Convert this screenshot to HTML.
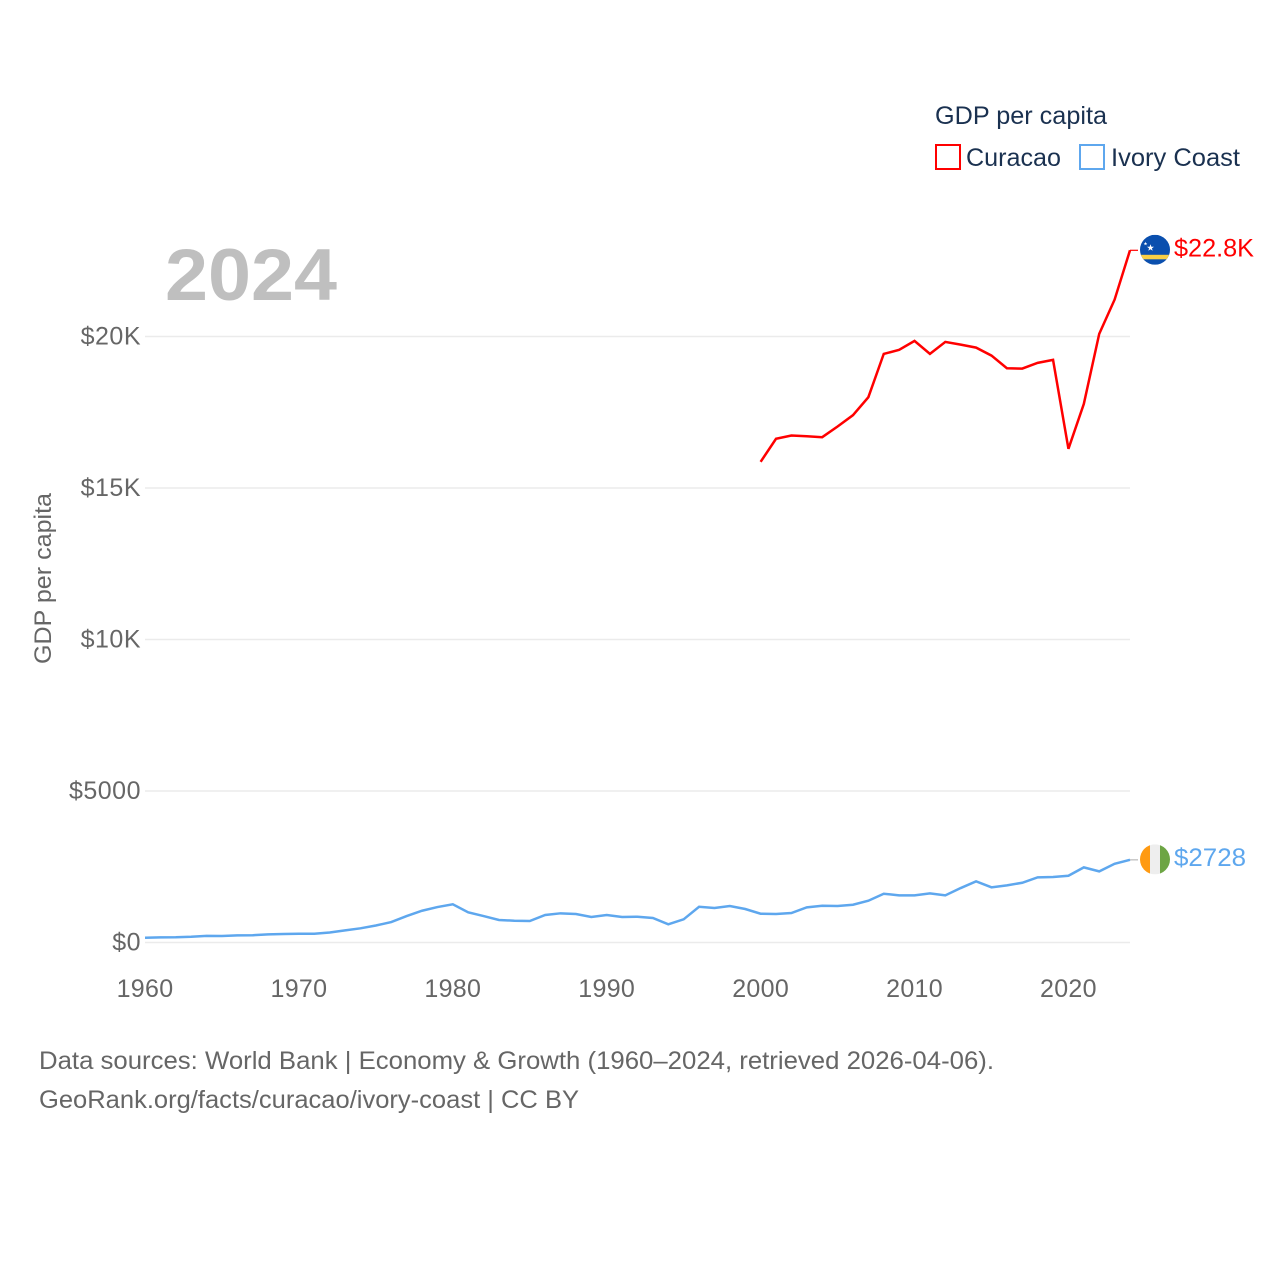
<!DOCTYPE html>
<html lang="en">
<head>
<meta charset="utf-8">
<title>GDP per capita: Curacao and Ivory Coast</title>
<style>
html,body{margin:0;padding:0;background:#fff;}
svg{display:block;font-family:"Liberation Sans",sans-serif;}
</style>
</head>
<body>
<svg id="chart" width="1280" height="1280" viewBox="0 0 1280 1280" xmlns="http://www.w3.org/2000/svg">
  <defs>
    <clipPath id="flag-clip"><circle cx="0" cy="0" r="15"/></clipPath>
  </defs>
  <rect width="1280" height="1280" fill="#ffffff"/>
  <g id="grid"></g>
  <g id="yticks"></g>
  <g id="xticks"></g>
  <text x="165" y="300" font-size="73" font-weight="700" fill="#bfbfbf" textLength="172" lengthAdjust="spacingAndGlyphs">2024</text>
  <text transform="translate(51,664) rotate(-90)" font-size="24" fill="#666666" textLength="171" lengthAdjust="spacingAndGlyphs">GDP per capita</text>
  <g id="series"></g>
  <g id="flag-curacao">
    <g clip-path="url(#flag-clip)">
      <rect x="-15" y="-15" width="30" height="30" fill="#0a4fae"/>
      <rect x="-15" y="5" width="30" height="4.5" fill="#f8cf45"/>
      <polygon fill="#ffffff" points="-4.5,-5.5 -3.6,-3 -1,-3 -3.1,-1.4 -2.3,1 -4.5,-0.5 -6.7,1 -5.9,-1.4 -8,-3 -5.4,-3"/>
      <polygon fill="#ffffff" points="-9.5,-8 -9,-6.7 -7.7,-6.7 -8.7,-5.9 -8.4,-4.6 -9.5,-5.3 -10.6,-4.6 -10.3,-5.9 -11.3,-6.7 -10,-6.7"/>
    </g>
  </g>
  <g id="flag-ivory">
    <g clip-path="url(#flag-clip)">
      <rect x="-15" y="-15" width="10" height="30" fill="#ff9a12"/>
      <rect x="-5" y="-15" width="10" height="30" fill="#eeeeee"/>
      <rect x="5" y="-15" width="10" height="30" fill="#6da544"/>
    </g>
  </g>
  <text id="label-curacao" x="1174" font-size="25" fill="#ff0000" textLength="80" lengthAdjust="spacingAndGlyphs"></text>
  <text id="label-ivory" x="1174" font-size="25" fill="#5ea7ee" textLength="72" lengthAdjust="spacingAndGlyphs"></text>

  <g>
    <text x="935" y="124" font-size="25" fill="#1a3150" textLength="172" lengthAdjust="spacingAndGlyphs">GDP per capita</text>
    <g>
      <rect x="936" y="145" width="24" height="24" fill="#ffffff" stroke="#ff0000" stroke-width="2"/>
      <text x="966" y="166" font-size="25" fill="#1a3150" textLength="95" lengthAdjust="spacingAndGlyphs">Curacao</text>
    </g>
    <g>
      <rect x="1080" y="145" width="24" height="24" fill="#ffffff" stroke="#5ea7ee" stroke-width="2"/>
      <text x="1111" y="166" font-size="25" fill="#1a3150" textLength="129" lengthAdjust="spacingAndGlyphs">Ivory Coast</text>
    </g>
  </g>

  <text x="39" y="1069" font-size="25" fill="#666666" textLength="955" lengthAdjust="spacingAndGlyphs">Data sources: World Bank | Economy &amp; Growth (1960–2024, retrieved 2026-04-06).</text>
  <text x="39" y="1108" font-size="25" fill="#666666" textLength="540" lengthAdjust="spacingAndGlyphs">GeoRank.org/facts/curacao/ivory-coast | CC BY</text>
</svg>
<script>
const yTickValues = [0, 5000, 10000, 15000, 20000];
const yTickLabels = ["$0", "$5000", "$10K", "$15K", "$20K"];
const xTickValues = [1960, 1970, 1980, 1990, 2000, 2010, 2020];
const xTickLabels = ["1960", "1970", "1980", "1990", "2000", "2010", "2020"];
const curacaoYears = [2000,2001,2002,2003,2004,2005,2006,2007,2008,2009,2010,2011,2012,2013,2014,2015,2016,2017,2018,2019,2020,2021,2022,2023,2024];
const curacaoValues = [15865,16625,16733,16710,16677,17030,17403,17996,19426,19558,19855,19426,19822,19733,19634,19370,18952,18941,19129,19228,16294,17777,20086,21218,22845];
const ivoryYears = [1960,1961,1962,1963,1964,1965,1966,1967,1968,1969,1970,1971,1972,1973,1974,1975,1976,1977,1978,1979,1980,1981,1982,1983,1984,1985,1986,1987,1988,1989,1990,1991,1992,1993,1994,1995,1996,1997,1998,1999,2000,2001,2002,2003,2004,2005,2006,2007,2008,2009,2010,2011,2012,2013,2014,2015,2016,2017,2018,2019,2020,2021,2022,2023,2024];
const ivoryValues = [158,170,172,188,220,215,237,240,270,280,287,290,330,400,468,560,675,873,1048,1170,1260,995,873,742,719,709,907,963,940,841,907,841,851,808,600,765,1180,1137,1203,1105,950,940,973,1160,1213,1203,1246,1378,1609,1556,1556,1622,1556,1797,2018,1820,1886,1972,2150,2160,2203,2479,2347,2598,2728];
const curacaoEndLabel = "$22.8K";
const ivoryEndLabel = "$2728";

const SVG_NS = "http://www.w3.org/2000/svg";
const X_LEFT = 145, X_RIGHT = 1130, YEAR_MIN = 1960, YEAR_MAX = 2024;
const Y_ZERO = 942.5, Y_TOP = 336.5, VALUE_TOP = 20000;

function xScale(year) {
  return X_LEFT + (year - YEAR_MIN) * (X_RIGHT - X_LEFT) / (YEAR_MAX - YEAR_MIN);
}
function yScale(value) {
  return Y_ZERO - value * (Y_ZERO - Y_TOP) / VALUE_TOP;
}
function make(tag, attrs, parent, text) {
  const el = document.createElementNS(SVG_NS, tag);
  for (const key in attrs) el.setAttribute(key, attrs[key]);
  if (text !== undefined) el.textContent = text;
  parent.appendChild(el);
  return el;
}

const grid = document.getElementById("grid");
const yticks = document.getElementById("yticks");
const xticks = document.getElementById("xticks");
const series = document.getElementById("series");

yTickValues.forEach(function (value, i) {
  const line = make("line", {x1: X_LEFT, x2: X_RIGHT, y1: yScale(value), y2: yScale(value), stroke: "#ebebeb", "stroke-width": 1.5}, grid);
  
  
  const label = make("text", {x: 141, y: yScale(value) + 8, "text-anchor": "end", "font-size": 25, "letter-spacing": 0.5, fill: "#666666"}, yticks, yTickLabels[i]);
  
  
});

xTickValues.forEach(function (year, i) {
  const label = make("text", {x: xScale(year), y: 997, "text-anchor": "middle", "font-size": 25, "letter-spacing": 0.3, fill: "#666666"}, xticks, xTickLabels[i]);
  
  
});

function linePoints(years, values) {
  return years.map(function (year, i) {
    return xScale(year).toFixed(2) + "," + yScale(values[i]).toFixed(2);
  }).join(" ");
}

const curacaoLine = make("polyline", {points: linePoints(curacaoYears, curacaoValues), fill: "none", stroke: "#ff0000", "stroke-width": 2.5, "stroke-linejoin": "miter"}, series);



const ivoryLine = make("polyline", {points: linePoints(ivoryYears, ivoryValues), fill: "none", stroke: "#5ea7ee", "stroke-width": 2.5, "stroke-linejoin": "miter"}, series);



function placeEnd(values, connectorColor, flagId, labelId, labelText, name) {
  const y = yScale(values[values.length - 1]);
  const connector = make("line", {x1: X_RIGHT, x2: 1138, y1: y, y2: y, stroke: connectorColor, "stroke-width": 1.2}, series);
  
  
  document.getElementById(flagId).setAttribute("transform", "translate(1155," + (y - 0.5).toFixed(2) + ")");
  const label = document.getElementById(labelId);
  label.setAttribute("y", (y + 6).toFixed(2));
  label.textContent = labelText;
}
placeEnd(curacaoValues, "#ff0000", "flag-curacao", "label-curacao", curacaoEndLabel, "curacao-connector");
placeEnd(ivoryValues, "#b9b9b9", "flag-ivory", "label-ivory", ivoryEndLabel, "ivory-coast-connector");
</script>
</body>
</html>
